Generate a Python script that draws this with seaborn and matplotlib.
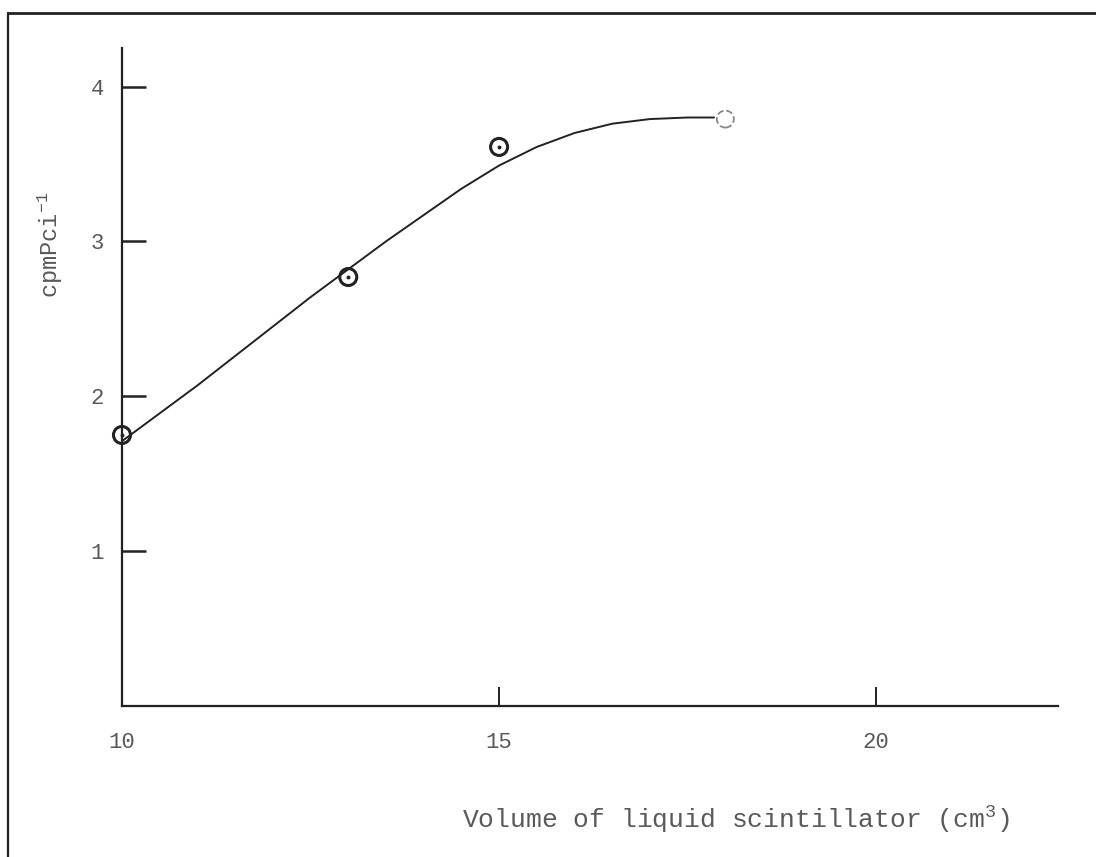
import matplotlib
matplotlib.use('Agg')
import matplotlib.pyplot as plt
from matplotlib.lines import Line2D
import pandas as pd
import seaborn as sns

# measured points (volume in cm3, cpm per pCi)
volume = [10, 13, 15, 18]
cpm = [1.75, 2.77, 3.61, 3.79]

# hand drawn curve
curve_x = [10.0, 10.5, 11.0, 11.5, 12.0, 12.5, 13.0, 13.5, 14.0, 14.5,
           15.0, 15.5, 16.0, 16.5, 17.0, 17.5, 17.85]
curve_y = [1.71, 1.89, 2.07, 2.26, 2.45, 2.64, 2.82, 3.00, 3.17, 3.34,
           3.49, 3.61, 3.70, 3.76, 3.79, 3.80, 3.80]

x_ticks = [10, 15, 20]
y_ticks = [1, 2, 3, 4]

points = pd.DataFrame({'volume': volume, 'cpm': cpm})
curve = pd.DataFrame({'volume': curve_x, 'cpm': curve_y})

sns.set_theme(style='white')
plt.rcParams['font.family'] = ['Liberation Mono', 'DejaVu Sans Mono']
plt.rcParams['mathtext.fontset'] = 'custom'
plt.rcParams['mathtext.rm'] = 'Liberation Mono'
plt.rcParams['mathtext.default'] = 'rm'

ink = '#222222'
type_ink = '#5a5a5a'

fig = plt.figure(figsize=(10.96, 8.57), dpi=100)
ax = fig.add_axes([0.1113, 0.1762, 0.854, 0.768])

sns.lineplot(data=curve, x='volume', y='cpm', ax=ax, color=ink, linewidth=1.4,
             sort=False, estimator=None)

# circled points, the last one is fainter on the scan
sns.scatterplot(data=points.iloc[:3], x='volume', y='cpm', ax=ax, s=150,
                facecolor='none', edgecolor=ink, linewidth=2.2, clip_on=False, zorder=5)
sns.scatterplot(data=points.iloc[:3], x='volume', y='cpm', ax=ax, s=8,
                color=ink, linewidth=0, clip_on=False, zorder=6)
sns.scatterplot(data=points.iloc[3:], x='volume', y='cpm', ax=ax, s=150,
                facecolor='none', edgecolor='#888888', linewidth=1.3,
                linestyle='--', clip_on=False, zorder=5)

ax.set_xlim(10, 22.41)
ax.set_ylim(0, 4.25)
ax.set_xticks(x_ticks)
ax.set_yticks(y_ticks)
ax.tick_params(axis='x', bottom=True, direction='in', length=14, width=1.4, color=ink,
               pad=19, labelsize=16, labelcolor=type_ink)
ax.tick_params(axis='y', left=True, direction='in', length=17, width=1.8, color=ink,
               pad=13, labelsize=16, labelcolor=type_ink)

sns.despine(ax=ax)
for side in ['left', 'bottom']:
    ax.spines[side].set_color(ink)
    ax.spines[side].set_linewidth(1.6)

ax.set_xlabel('Volume of liquid scintillator (cm$^3$)', fontsize=19,
              color=type_ink, va='center')
ax.xaxis.set_label_coords(0.656, -0.173)
ax.set_ylabel('cpmPci$^{-1}$', fontsize=17, color=type_ink, va='center')
ax.yaxis.set_label_coords(-0.077, 0.70)

# page frame from the scan
fig.add_artist(Line2D([8 / 1096, 1], [1 - 13 / 857, 1 - 13 / 857],
                      transform=fig.transFigure, color=ink, linewidth=2))
fig.add_artist(Line2D([8 / 1096, 8 / 1096], [0, 1 - 13 / 857],
                      transform=fig.transFigure, color=ink, linewidth=1.6))

fig.savefig('out.png', dpi=100, facecolor='white')
